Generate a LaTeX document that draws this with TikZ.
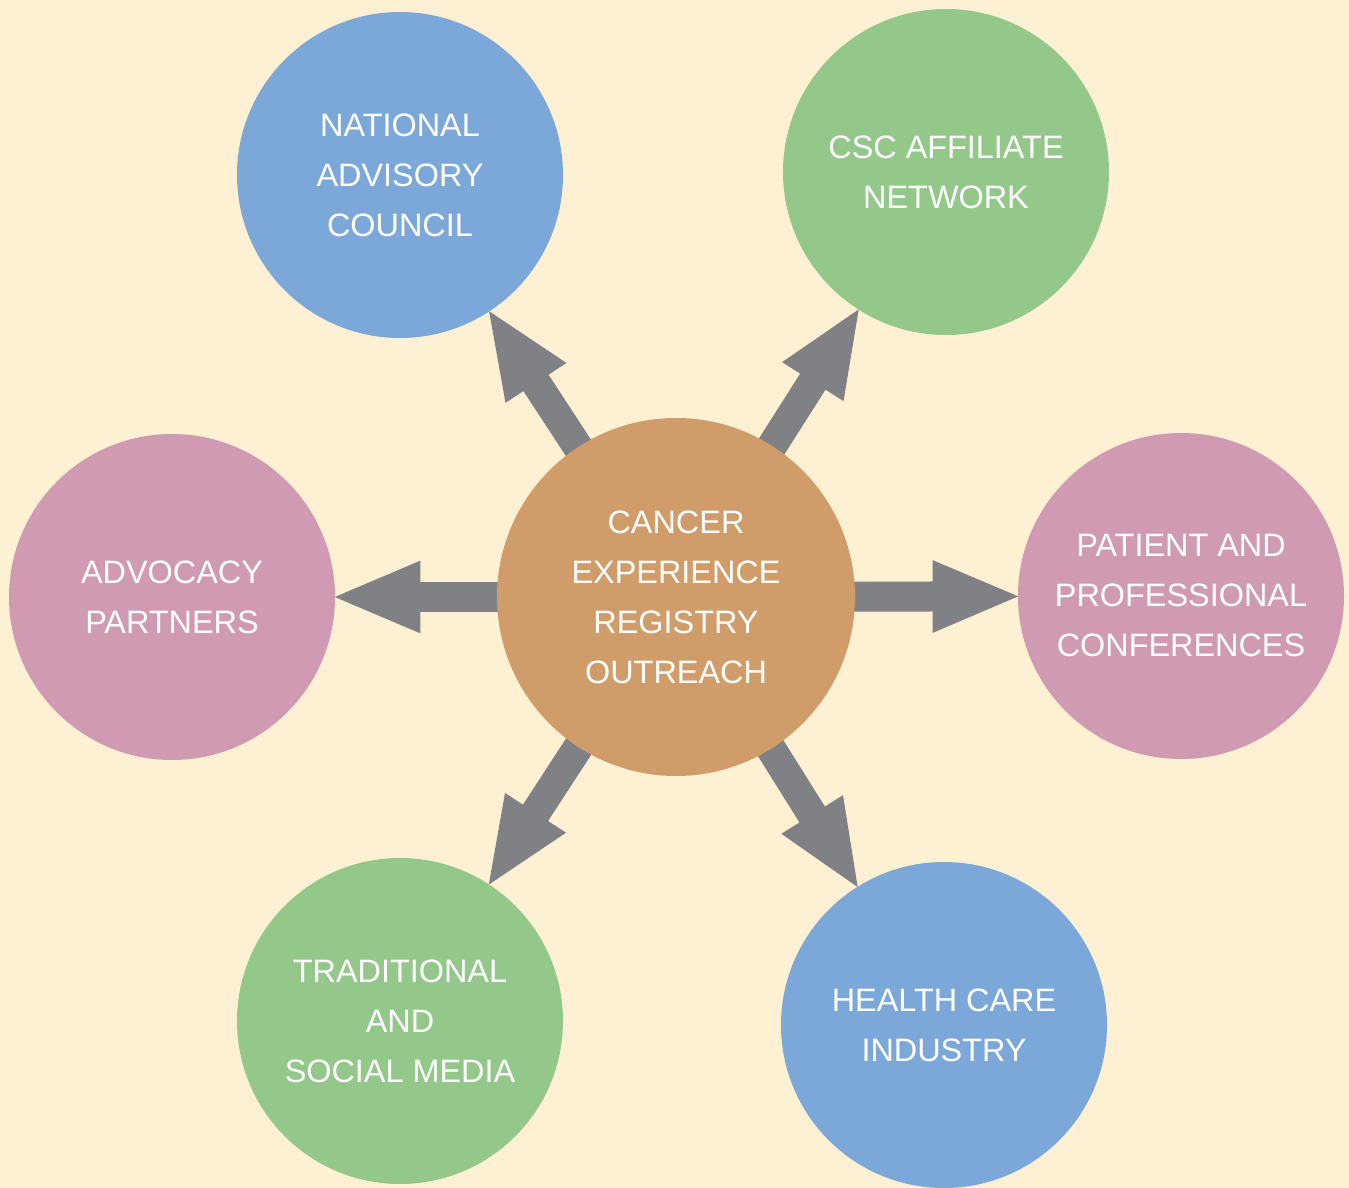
\documentclass[tikz,border=0pt]{standalone}
\usepackage{fontspec}
\setmainfont{Liberation Sans}
\usetikzlibrary{arrows.meta,backgrounds}
\definecolor{crbg}{RGB}{254,240,210}
\definecolor{crblue}{RGB}{123,168,217}
\definecolor{crgreen}{RGB}{148,200,138}
\definecolor{crpink}{RGB}{208,154,178}
\definecolor{crorange}{RGB}{207,156,106}
\definecolor{crgray}{RGB}{128,129,133}
\tikzstyle{arrow} = [line width=15pt,-{Triangle[length=45pt,width=32.5pt]},shorten >=-2.5pt,color=crgray]
\tikzstyle{partner} = [circle, minimum size=163pt, inner sep=0pt, text=white, align=center, font=\fontsize{16.2}{25}\selectfont]
\tikzstyle{hub} = [partner, minimum size=179pt, fill=crorange]

\begin{document}
\begin{tikzpicture}[x=0.5pt,y=-0.5pt]
\useasboundingbox (0,0) rectangle (1349,1188);
\node[hub] (registry) at (676,597) {CANCER\\EXPERIENCE\\REGISTRY\\OUTREACH};
\node[partner, fill=crblue] (council) at (400,175) {NATIONAL\\ADVISORY\\COUNCIL};
\node[partner, fill=crgreen] (affiliate) at (946,172) {CSC AFFILIATE\\NETWORK};
\node[partner, fill=crpink] (advocacy) at (172,597) {ADVOCACY\\PARTNERS};
\node[partner, fill=crpink] (conferences) at (1181,596) {PATIENT AND\\PROFESSIONAL\\CONFERENCES};
\node[partner, fill=crgreen] (media) at (400,1021) {TRADITIONAL\\AND\\SOCIAL MEDIA};
\node[partner, fill=crblue] (industry) at (944,1025) {HEALTH CARE\\INDUSTRY};

\begin{scope}[on background layer]
\fill[crbg] (0,0) rectangle (1349,1188);
\draw[arrow] (registry.center) -- (council);
\draw[arrow] (registry.center) -- (affiliate);
\draw[arrow] (registry.center) -- (advocacy);
\draw[arrow] (registry.center) -- (conferences);
\draw[arrow] (registry.center) -- (media);
\draw[arrow] (registry.center) -- (industry);
\end{scope}
\end{tikzpicture}
\end{document}
